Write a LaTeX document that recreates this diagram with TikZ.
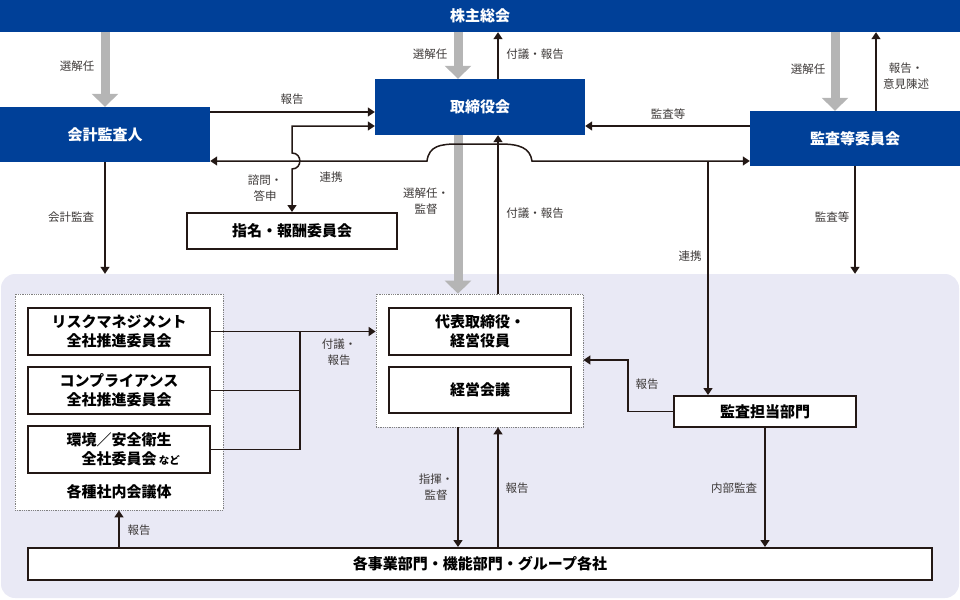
\documentclass[tikz,border=0pt]{standalone}
\usepackage{fontspec}
\setmainfont{Noto Sans CJK JP}
\usetikzlibrary{arrows.meta}
\definecolor{kblue}{RGB}{0,64,152}
\definecolor{kgray}{RGB}{181,181,181}
\definecolor{kline}{RGB}{35,24,21}
\definecolor{kbg}{RGB}{233,233,245}
\definecolor{klabel}{RGB}{62,58,57}

\begin{document}
\begin{tikzpicture}[x=1pt,y=-1pt,
   bluebox/.style={fill=kblue,text=white,inner sep=0pt,font=\fontsize{15}{19}\selectfont\bfseries},
   whitebox/.style={draw=kline,line width=2pt,fill=white,inner sep=0pt,align=center,
     font=\fontsize{15}{19}\selectfont\bfseries},
   groupbox/.style={draw=gray,densely dotted,line width=0.8pt,fill=white,inner sep=0pt},
   lbl/.style={text=klabel,inner sep=0pt,align=center,font=\fontsize{11.5}{16}\selectfont},
   line/.style={draw=kline,line width=1.5pt},
   arr/.style={line,-{Triangle[length=7pt,width=9pt]}},
   arrs/.style={line,{Triangle[length=7pt,width=9pt]}-{Triangle[length=7pt,width=9pt]}},
   selarrow/.style={draw=kgray,line width=9pt,-{Triangle[length=13pt,width=26pt]}}]
   \useasboundingbox (0,0) rectangle (960,599);

   \node (bg) [fill=kbg,rounded corners=14pt,minimum width=958pt,minimum height=324pt] at (480,436) {};

   \node (soukai) [bluebox,minimum width=960pt,minimum height=32pt] at (480,16) {株主総会};
   \node (kansanin) [bluebox,minimum width=210pt,minimum height=55pt] at (105,134.5) {会計監査人};
   \node (torishimari) [bluebox,minimum width=210pt,minimum height=56pt] at (480,107) {取締役会};
   \node (kansatou) [bluebox,minimum width=210pt,minimum height=55pt] at (855,138.5) {監査等委員会};
   \node (shimei) [whitebox,minimum width=210pt,minimum height=36pt] at (292,231) {指名・報酬委員会};

   \node (leftgrp) [groupbox,minimum width=208pt,minimum height=216pt] at (119,402) {};
   \node (risk) [whitebox,minimum width=182pt,minimum height=47pt] at (119,331.5) {リスクマネジメント\\全社推進委員会};
   \node (comp) [whitebox,minimum width=182pt,minimum height=47pt] at (119,390.5) {コンプライアンス\\全社推進委員会};
   \node (kankyo) [whitebox,minimum width=182pt,minimum height=47pt] at (119,449.5)
     {環境／安全衛生\\全社委員会\rlap{\fontsize{10.5}{12}\selectfont\ など}};
   \node (kaigitai) [inner sep=0pt,font=\fontsize{15}{19}\selectfont\bfseries] at (119,492) {各種社内会議体};

   \node (centgrp) [groupbox,minimum width=207pt,minimum height=133pt] at (479.5,360.5) {};
   \node (daihyo) [whitebox,minimum width=182pt,minimum height=47pt] at (480,331.5) {代表取締役・\\経営役員};
   \node (keiei) [whitebox,minimum width=182pt,minimum height=46pt] at (480,390) {経営会議};

   \node (kansabu) [whitebox,minimum width=182pt,minimum height=31pt] at (765,411.5) {監査担当部門};
   \node (bottom) [whitebox,minimum width=904pt,minimum height=32pt] at (480,564) {各事業部門・機能部門・グループ各社};

   \coordinate (sx1) at (458,0);
   \coordinate (ux1) at (498,0);
   \coordinate (sx2) at (835,0);
   \coordinate (ux2) at (876,0);
   \coordinate (rk) at (708,161);
   \coordinate (jx) at (300,0);
   \coordinate (hx) at (628,360);

   \draw[selarrow] (soukai.south -| kansanin.north) -- (kansanin.north);
   \draw[selarrow] (sx1 |- soukai.south) -- (sx1 |- torishimari.north);
   \draw[selarrow] (sx2 |- soukai.south) -- (sx2 |- kansatou.north);
   \draw[selarrow] (sx1 |- torishimari.south) -- (sx1 |- centgrp.north);
   \draw[arr] (ux1 |- torishimari.north) -- (ux1 |- soukai.south);
   \draw[arr] (ux2 |- kansatou.north) -- (ux2 |- soukai.south);
   \draw[arr] (kansanin.east |- 0,112) -- (torishimari.west |- 0,112);
   \draw[arr] (kansatou.west |- 0,126) -- (torishimari.east |- 0,126);
   \draw[arrs] (torishimari.west |- 0,126) -- (shimei.north |- 0,126) -- (shimei.north |- 0,153)
     .. controls (302.5,153) and (302.5,169) .. (shimei.north |- 0,169) -- (shimei.north);
   \draw[arrs] (kansanin.east |- 0,161) -- (427,161) .. controls (429,146) and (440,144) .. (458,144)
     -- (500,144) .. controls (520,144) and (530,148) .. (532,161) -- (kansatou.west |- 0,161);
   \draw[arr] (rk) -- (rk |- kansabu.north);
   \draw[arr] (kansatou.south) -- (kansatou.south |- bg.north);
   \draw[arr] (kansanin.south) -- (kansanin.south |- bg.north);
   \draw[arr] (ux1 |- centgrp.north) -- (ux1 |- torishimari.south);

   \draw[arr] (risk.east) -- (centgrp.west |- risk.east);
   \draw[line] (comp.east) -- (jx |- comp.east);
   \draw[line] (kankyo.east) -| (jx |- risk.east);
   \draw[arr] (kansabu.west) -| (hx) -- (centgrp.east |- hx);
   \draw[arr] (sx1 |- centgrp.south) -- (sx1 |- bottom.north);
   \draw[arr] (ux1 |- bottom.north) -- (ux1 |- centgrp.south);
   \draw[arr] (kansabu.south) -- (kansabu.south |- bottom.north);
   \draw[arr] (leftgrp.south |- bottom.north) -- (leftgrp.south);

   \node (l1) [lbl] at (77,66) {選解任};
   \node (l2) [lbl] at (430,54) {選解任};
   \node (l3) [lbl] at (535,54) {付議・報告};
   \node (l4) [lbl] at (808,69) {選解任};
   \node (l5) [lbl] at (906,76) {報告・\\意見陳述};
   \node (l6) [lbl] at (292,99) {報告};
   \node (l7) [lbl] at (668,114) {監査等};
   \node (l8) [lbl] at (265,188) {諮問・\\答申};
   \node (l9) [lbl] at (331,177) {連携};
   \node (l10) [lbl] at (426,201) {選解任・\\監督};
   \node (l11) [lbl] at (71,217) {会計監査};
   \node (l12) [lbl] at (535,213) {付議・報告};
   \node (l13) [lbl] at (832,217) {監査等};
   \node (l14) [lbl] at (690,256) {連携};
   \node (l15) [lbl] at (339,352) {付議・\\報告};
   \node (l16) [lbl] at (647,384) {報告};
   \node (l17) [lbl] at (436,487) {指揮・\\監督};
   \node (l18) [lbl] at (517,488) {報告};
   \node (l19) [lbl] at (734,488) {内部監査};
   \node (l20) [lbl] at (139,530) {報告};
  \end{tikzpicture}
\end{document}
